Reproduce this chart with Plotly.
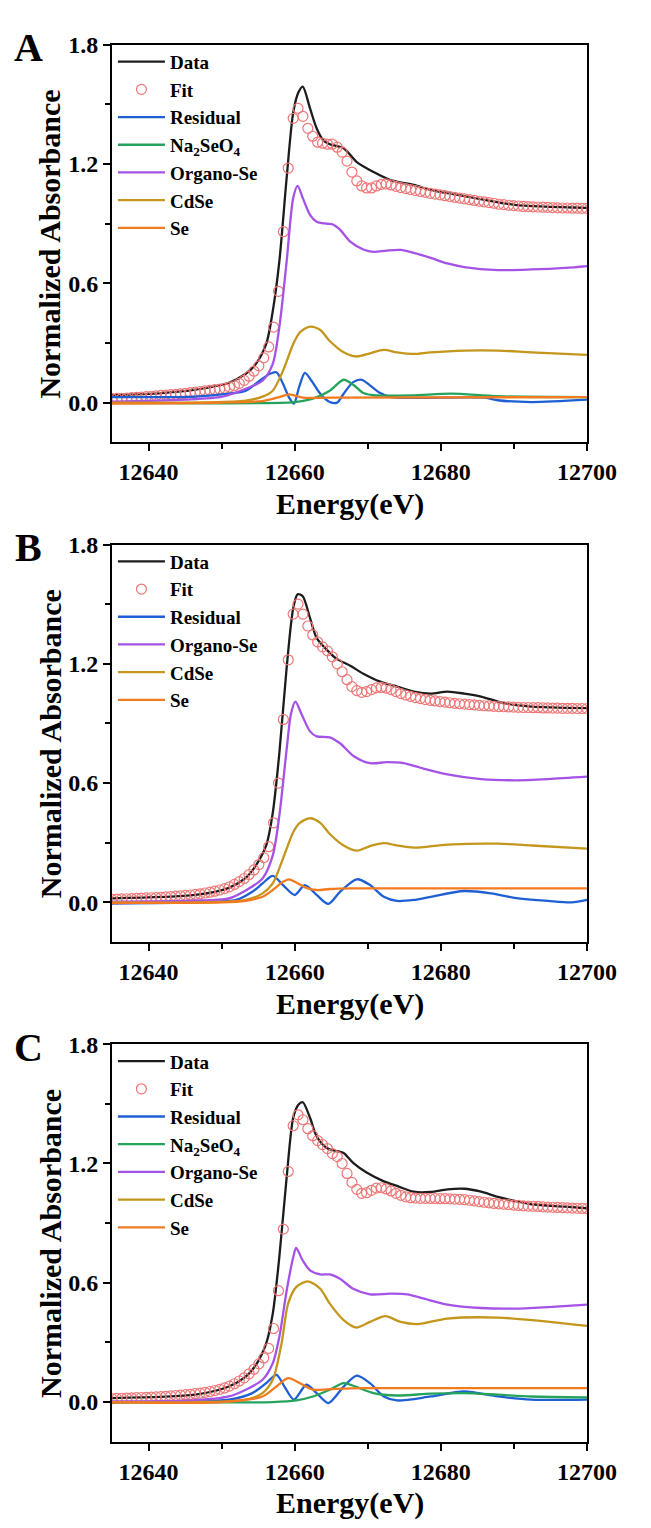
import plotly.graph_objects as go

# ---------------- data ----------------
fit_E = [12635.00, 12635.67, 12636.34, 12637.01, 12637.68, 12638.35, 12639.02, 12639.69, 12640.36, 12641.03,
         12641.70, 12642.37, 12643.04, 12643.71, 12644.38, 12645.05, 12645.72, 12646.39, 12647.06, 12647.73,
         12648.40, 12649.07, 12649.74, 12650.41, 12651.08, 12651.75, 12652.42, 12653.09, 12653.76, 12654.43,
         12655.10, 12655.77, 12656.44, 12657.11, 12657.78, 12658.45, 12659.12, 12659.79, 12660.46, 12661.13,
         12661.80, 12662.47, 12663.14, 12663.81, 12664.48, 12665.15, 12665.82, 12666.49, 12667.16, 12667.83,
         12668.50, 12669.17, 12669.84, 12670.51, 12671.18, 12671.85, 12672.52, 12673.19, 12673.86, 12674.53,
         12675.20, 12675.87, 12676.54, 12677.21, 12677.88, 12678.55, 12679.22, 12679.89, 12680.56, 12681.23,
         12681.90, 12682.57, 12683.24, 12683.91, 12684.58, 12685.25, 12685.92, 12686.59, 12687.26, 12687.93,
         12688.60, 12689.27, 12689.94, 12690.61, 12691.28, 12691.95, 12692.62, 12693.29, 12693.96, 12694.63,
         12695.30, 12695.97, 12696.64, 12697.31, 12697.98, 12698.65, 12699.32, 12699.99]

# Panel A
dataA_E = [12635, 12641.8, 12646.4, 12651.0, 12653.3, 12654.7, 12656.1, 12657.0, 12657.9, 12658.9, 12659.8,
           12660.5, 12661.1, 12662.1, 12663.0, 12663.9, 12664.8, 12666.7, 12668.5, 12670.8, 12673.1, 12676.3,
           12678.6, 12682.3, 12686.0, 12690.1, 12700]
dataA_v = [0.037, 0.048, 0.065, 0.10, 0.145, 0.195, 0.295, 0.46, 0.71, 1.13, 1.46,
           1.56, 1.59, 1.48, 1.38, 1.32, 1.30, 1.28, 1.21, 1.16, 1.12, 1.095,
           1.07, 1.045, 1.02, 0.995, 0.98]
fitA = [0.020, 0.021, 0.022, 0.023, 0.025, 0.026, 0.028, 0.030, 0.032, 0.034,
        0.036, 0.038, 0.040, 0.042, 0.044, 0.047, 0.050, 0.053, 0.056, 0.059,
        0.062, 0.065, 0.068, 0.072, 0.078, 0.085, 0.097, 0.112, 0.133, 0.158,
        0.185, 0.225, 0.28, 0.38, 0.56, 0.86, 1.18, 1.43, 1.48, 1.44,
        1.38, 1.34, 1.31, 1.305, 1.30, 1.30, 1.285, 1.26, 1.215, 1.16,
        1.115, 1.09, 1.08, 1.08, 1.09, 1.098, 1.10, 1.095, 1.088, 1.082,
        1.077, 1.072, 1.067, 1.062, 1.058, 1.053, 1.049, 1.045, 1.041, 1.037,
        1.033, 1.029, 1.025, 1.021, 1.017, 1.013, 1.010, 1.006, 1.003, 0.998,
        0.996, 0.993, 0.991, 0.989, 0.987, 0.986, 0.985, 0.984, 0.983, 0.982,
        0.981, 0.980, 0.979, 0.979, 0.978, 0.978, 0.977, 0.977]
resA_E = [12635, 12646.4, 12651.0, 12653.3, 12655.2, 12656.6, 12657.5, 12658.4, 12659.2, 12659.9, 12660.6,
          12661.4, 12662.3, 12663.5, 12664.8, 12665.8, 12666.7, 12668.0, 12669.2, 12670.3, 12671.7, 12673.1,
          12686.0, 12687.8, 12692.4, 12700]
resA_v = [0.028, 0.03, 0.045, 0.06, 0.11, 0.145, 0.153, 0.095, 0.028, -0.005, 0.078,
          0.15, 0.11, 0.045, 0.003, 0.0, 0.045, 0.103, 0.115, 0.087, 0.048, 0.028,
          0.025, 0.012, 0.003, 0.015]
naA_E = [12635, 12660, 12662.5, 12664.8, 12666.7, 12668.1, 12669.4, 12670.8, 12676, 12681.4, 12687.8, 12700]
naA_v = [0.0, 0.003, 0.02, 0.06, 0.115, 0.087, 0.048, 0.037, 0.036, 0.045, 0.032, 0.028]
orgA_E = [12635, 12645, 12650.1, 12653.3, 12655.6, 12657.0, 12657.9, 12658.9, 12659.8, 12660.4, 12661.1,
          12662.1, 12663.0, 12664.4, 12665.3, 12666.2, 12667.6, 12669.4, 12670.8, 12672.6, 12674.5, 12676.3,
          12678.6, 12680.9, 12683.2, 12687.8, 12692.4, 12697.0, 12700]
orgA_v = [0.005, 0.015, 0.03, 0.07, 0.11, 0.195, 0.38, 0.71, 1.03, 1.09, 1.03,
          0.945, 0.91, 0.90, 0.895, 0.87, 0.81, 0.77, 0.758, 0.765, 0.768, 0.753,
          0.728, 0.70, 0.682, 0.667, 0.67, 0.678, 0.687]
cdA_E = [12635, 12653.3, 12655.6, 12657.0, 12658.4, 12659.8, 12660.7, 12662.1, 12663.5, 12664.8, 12666.7,
         12668.5, 12670.3, 12672.2, 12674.0, 12676.3, 12678.6, 12683.2, 12687.8, 12692.4, 12700]
cdA_v = [0.0, 0.01, 0.03, 0.06, 0.16, 0.295, 0.353, 0.382, 0.365, 0.31, 0.253,
         0.232, 0.248, 0.265, 0.253, 0.245, 0.253, 0.262, 0.262, 0.253, 0.24]
seA_E = [12635, 12650, 12655.6, 12657.9, 12659.3, 12661.1, 12664.8, 12700]
seA_v = [-0.005, 0.0, 0.008, 0.028, 0.042, 0.025, 0.025, 0.028]

# Panel B
dataB_E = [12635, 12646.4, 12651.0, 12653.3, 12654.7, 12656.1, 12657.0, 12657.9, 12658.9, 12659.8, 12660.4,
           12661.1, 12662.1, 12663.0, 12664.4, 12665.7, 12667.6, 12669.4, 12671.7, 12674.0, 12676.3, 12678.6,
           12680.9, 12683.2, 12685.5, 12687.8, 12690.1, 12692.4, 12700]
dataB_v = [0.02, 0.037, 0.073, 0.123, 0.186, 0.286, 0.45, 0.75, 1.18, 1.48, 1.55,
           1.54, 1.43, 1.33, 1.27, 1.226, 1.19, 1.15, 1.11, 1.085, 1.06, 1.05,
           1.06, 1.05, 1.035, 1.01, 0.993, 0.985, 0.977]
fitB = [0.015, 0.016, 0.017, 0.018, 0.019, 0.020, 0.021, 0.022, 0.023, 0.024,
        0.025, 0.027, 0.029, 0.031, 0.033, 0.035, 0.037, 0.040, 0.043, 0.047,
        0.051, 0.056, 0.062, 0.069, 0.078, 0.090, 0.104, 0.120, 0.140, 0.163,
        0.190, 0.225, 0.28, 0.40, 0.60, 0.92, 1.22, 1.45, 1.50, 1.45,
        1.39, 1.345, 1.31, 1.285, 1.265, 1.235, 1.20, 1.16, 1.12, 1.085,
        1.065, 1.056, 1.06, 1.07, 1.079, 1.081, 1.078, 1.07, 1.06, 1.05,
        1.043, 1.036, 1.030, 1.025, 1.020, 1.016, 1.013, 1.010, 1.007, 1.004,
        1.001, 0.999, 0.997, 0.995, 0.993, 0.991, 0.989, 0.988, 0.986, 0.985,
        0.984, 0.983, 0.982, 0.981, 0.980, 0.980, 0.979, 0.979, 0.978, 0.978,
        0.977, 0.977, 0.976, 0.976, 0.976, 0.975, 0.975, 0.975]
resB_E = [12635, 12646.4, 12652.0, 12654.2, 12655.6, 12657.0, 12658.4, 12660.0, 12661.4, 12663.0, 12664.6,
          12666.2, 12668.5, 12670.3, 12672.2, 12674.0, 12676.3, 12678.6, 12683.2, 12686.9, 12690.1, 12694.7,
          12697.9, 12700]
resB_v = [-0.005, 0.0, 0.012, 0.053, 0.095, 0.133, 0.087, 0.037, 0.087, 0.037, -0.008,
          0.053, 0.116, 0.087, 0.028, 0.007, 0.012, 0.028, 0.057, 0.045, 0.023, 0.007,
          0.0, 0.012]
orgB_E = [12635, 12646, 12651.0, 12653.3, 12655.6, 12657.0, 12657.9, 12658.9, 12659.5, 12660.1, 12660.9,
          12662.1, 12663.0, 12664.8, 12666.2, 12668.1, 12670.3, 12672.6, 12674.9, 12677.2, 12680.9, 12685.5,
          12690.1, 12694.7, 12700]
orgB_v = [0.003, 0.008, 0.02, 0.06, 0.12, 0.236, 0.436, 0.77, 0.95, 1.01, 0.95,
          0.86, 0.835, 0.83, 0.80, 0.735, 0.70, 0.705, 0.70, 0.677, 0.644, 0.62,
          0.614, 0.62, 0.632]
cdB_E = [12635, 12653.3, 12655.6, 12657.0, 12658.4, 12659.8, 12660.7, 12662.1, 12663.5, 12664.8, 12666.7,
         12668.5, 12670.3, 12672.2, 12674.0, 12676.3, 12680.9, 12687.8, 12692.4, 12700]
cdB_v = [0.0, 0.012, 0.045, 0.095, 0.22, 0.353, 0.40, 0.423, 0.40, 0.344, 0.286,
         0.26, 0.283, 0.298, 0.286, 0.275, 0.29, 0.295, 0.286, 0.27]
seB_E = [12635, 12650, 12653.3, 12655.6, 12657.0, 12658.4, 12659.2, 12660.2, 12661.6, 12663.0, 12664.8,
         12667.6, 12700]
seB_v = [-0.003, 0.0, 0.008, 0.028, 0.062, 0.103, 0.116, 0.10, 0.073, 0.062, 0.067, 0.07, 0.07]

# Panel C
dataC_E = [12635, 12646.4, 12651.0, 12653.3, 12654.7, 12656.1, 12657.0, 12657.9, 12658.9, 12659.8, 12660.5,
           12661.1, 12662.1, 12663.0, 12664.4, 12665.8, 12666.7, 12668.0, 12669.9, 12672.2, 12674.0, 12676.3,
           12678.6, 12680.9, 12683.2, 12685.5, 12687.8, 12690.1, 12692.4, 12697.0, 12700]
dataC_v = [0.02, 0.037, 0.078, 0.128, 0.187, 0.295, 0.445, 0.73, 1.13, 1.43, 1.495,
           1.508, 1.43, 1.337, 1.278, 1.262, 1.253, 1.203, 1.153, 1.11, 1.087, 1.058,
           1.057, 1.07, 1.073, 1.058, 1.032, 1.012, 0.995, 0.983, 0.975]
fitC = [0.017, 0.018, 0.019, 0.020, 0.021, 0.022, 0.023, 0.024, 0.025, 0.026,
        0.027, 0.029, 0.031, 0.033, 0.035, 0.037, 0.039, 0.042, 0.045, 0.049,
        0.053, 0.058, 0.064, 0.071, 0.080, 0.092, 0.106, 0.122, 0.142, 0.165,
        0.192, 0.222, 0.27, 0.37, 0.56, 0.87, 1.16, 1.39, 1.445, 1.42,
        1.375, 1.34, 1.315, 1.295, 1.275, 1.25, 1.235, 1.20, 1.15, 1.105,
        1.07, 1.05, 1.053, 1.065, 1.076, 1.078, 1.072, 1.062, 1.050, 1.040,
        1.032, 1.028, 1.026, 1.025, 1.025, 1.024, 1.024, 1.023, 1.023, 1.022,
        1.021, 1.020, 1.018, 1.015, 1.012, 1.008, 1.005, 1.002, 0.999, 0.997,
        0.995, 0.993, 0.991, 0.989, 0.987, 0.986, 0.985, 0.984, 0.982, 0.981,
        0.980, 0.979, 0.978, 0.977, 0.976, 0.975, 0.974, 0.973]
resC_E = [12635, 12651.0, 12654.2, 12656.1, 12657.5, 12658.6, 12659.9, 12661.6, 12663.0, 12664.6, 12666.7,
          12668.5, 12670.3, 12672.2, 12674.0, 12678.6, 12683.2, 12687.8, 12692.4, 12700]
resC_v = [0.0, 0.012, 0.045, 0.095, 0.137, 0.078, 0.012, 0.087, 0.045, -0.005, 0.078,
          0.133, 0.095, 0.028, 0.008, 0.028, 0.053, 0.028, 0.012, 0.012]
naC_E = [12635, 12657, 12660.2, 12662.5, 12664.8, 12666.7, 12668.5, 12670.8, 12674.0, 12678.6, 12683.2,
         12687.8, 12692.4, 12700]
naC_v = [0.0, 0.0, 0.008, 0.028, 0.062, 0.095, 0.075, 0.045, 0.033, 0.042, 0.045, 0.037, 0.028, 0.023]
orgC_E = [12635, 12646, 12651.0, 12653.3, 12655.6, 12657.0, 12657.9, 12658.9, 12659.8, 12660.2, 12661.1,
          12662.1, 12663.5, 12664.8, 12666.2, 12668.0, 12670.3, 12673.1, 12675.4, 12677.7, 12680.9, 12685.5,
          12690.1, 12694.7, 12700]
orgC_v = [0.003, 0.008, 0.028, 0.062, 0.112, 0.195, 0.328, 0.56, 0.728, 0.775, 0.712,
          0.662, 0.642, 0.642, 0.62, 0.57, 0.542, 0.545, 0.542, 0.52, 0.49, 0.473,
          0.47, 0.478, 0.49]
cdC_E = [12635, 12653.3, 12655.6, 12657.0, 12658.2, 12659.1, 12660.2, 12661.8, 12663.5, 12664.8, 12666.7,
         12668.4, 12670.3, 12672.4, 12674.5, 12676.8, 12680.9, 12687.8, 12692.4, 12700]
cdC_v = [0.0, 0.012, 0.045, 0.112, 0.295, 0.495, 0.578, 0.607, 0.57, 0.495, 0.412,
         0.375, 0.403, 0.432, 0.403, 0.392, 0.42, 0.425, 0.412, 0.383]
seC_E = [12635, 12650, 12655.6, 12657.5, 12659.1, 12660.7, 12662.5, 12664.8, 12669.4, 12700]
seC_v = [0.0, 0.0, 0.028, 0.078, 0.12, 0.095, 0.062, 0.065, 0.07, 0.07]

panel_letters = ["A", "B", "C"]
x_ticks = [12640, 12660, 12680, 12700]
y_ticks = [0.0, 0.6, 1.2, 1.8]

# ---------------- styling ----------------
W, H = 651, 1528
OFF = 8  # default page body margin; layout targets are given in page pixels
FONT = "Liberation Serif"
C_DATA = "#1c1c1c"
C_FIT = "#ee7676"
C_RES = "#1f5fd4"
C_NA = "#25a35c"
C_ORG = "#a552e6"
C_CD = "#c4961c"
C_SE = "#f27b20"

panels = [
    dict(data=(dataA_E, dataA_v), fit=fitA, res=(resA_E, resA_v), na=(naA_E, naA_v),
         org=(orgA_E, orgA_v), cd=(cdA_E, cdA_v), se=(seA_E, seA_v)),
    dict(data=(dataB_E, dataB_v), fit=fitB, res=(resB_E, resB_v), na=None,
         org=(orgB_E, orgB_v), cd=(cdB_E, cdB_v), se=(seB_E, seB_v)),
    dict(data=(dataC_E, dataC_v), fit=fitC, res=(resC_E, resC_v), na=(naC_E, naC_v),
         org=(orgC_E, orgC_v), cd=(cdC_E, cdC_v), se=(seC_E, seC_v)),
]

left_px, right_px = 117, 615
tops = [32, 536, 1040]
box_h = 401


def px2x(p):
    return (p - OFF) / W


def py2y(p):
    return 1 - (p - OFF) / H


fig = go.Figure()
annotations = []
layout_axes = {}

for i, p in enumerate(panels):
    n = "" if i == 0 else str(i + 1)
    xa, ya = "x" + n, "y" + n
    lg = "legend" + n
    common = dict(xaxis=xa, yaxis=ya, legend=lg)
    line_kw = dict(shape="spline", smoothing=0.8, width=2.3)

    fig.add_trace(go.Scatter(x=p["data"][0], y=p["data"][1], mode="lines", name="Data",
                             line=dict(color=C_DATA, **line_kw), **common))
    fig.add_trace(go.Scatter(x=fit_E, y=p["fit"], mode="markers", name="Fit",
                             marker=dict(symbol="circle-open", size=10, color=C_FIT,
                                         line=dict(width=1.2, color=C_FIT)), **common))
    fig.add_trace(go.Scatter(x=p["res"][0], y=p["res"][1], mode="lines", name="Residual",
                             line=dict(color=C_RES, **line_kw), **common))
    if p["na"] is not None:
        fig.add_trace(go.Scatter(x=p["na"][0], y=p["na"][1], mode="lines",
                                 name="Na<sub>2</sub>SeO<sub>4</sub>",
                                 line=dict(color=C_NA, **line_kw), **common))
    fig.add_trace(go.Scatter(x=p["org"][0], y=p["org"][1], mode="lines", name="Organo-Se",
                             line=dict(color=C_ORG, **line_kw), **common))
    fig.add_trace(go.Scatter(x=p["cd"][0], y=p["cd"][1], mode="lines", name="CdSe",
                             line=dict(color=C_CD, **line_kw), **common))
    fig.add_trace(go.Scatter(x=p["se"][0], y=p["se"][1], mode="lines", name="Se",
                             line=dict(color=C_SE, **line_kw), **common))

    top = tops[i]
    bot = top + box_h
    tickfont = dict(family=FONT, size=24, color="black", weight="bold")
    layout_axes["xaxis" + n] = dict(
        domain=[px2x(left_px), px2x(right_px)], anchor=ya, range=[12635, 12700],
        tickmode="array", tickvals=x_ticks, ticktext=[str(t) for t in x_ticks],
        ticks="outside", ticklen=7, tickwidth=2, tickcolor="black",
        showline=True, linecolor="black", linewidth=2, mirror=True,
        showgrid=False, zeroline=False, tickfont=tickfont,
        minor=dict(tickmode="array", tickvals=[12650, 12670, 12690], ticks="outside",
                   ticklen=5, tickwidth=2, tickcolor="black", showgrid=False),
    )
    layout_axes["yaxis" + n] = dict(
        domain=[py2y(bot), py2y(top)], anchor=xa, range=[-0.2, 1.8],
        tickmode="array", tickvals=y_ticks, ticktext=["%.1f" % t for t in y_ticks],
        ticks="outside", ticklen=7, tickwidth=2, tickcolor="black",
        showline=True, linecolor="black", linewidth=2, mirror=True,
        showgrid=False, zeroline=False, tickfont=tickfont,
        minor=dict(tickmode="array", tickvals=[0.3, 0.9, 1.5], ticks="outside",
                   ticklen=5, tickwidth=2, tickcolor="black", showgrid=False),
    )
    layout_axes[lg] = dict(
        x=px2x(left_px + 1), y=py2y(top - 2), xanchor="left", yanchor="top",
        bgcolor="rgba(0,0,0,0)", borderwidth=0, tracegroupgap=0,
        font=dict(family=FONT, size=19, color="black", weight="bold"),
        itemwidth=47,
    )
    annotations.append(dict(text=panel_letters[i], x=px2x(29), y=py2y(top + 3), xref="paper", yref="paper",
                            xanchor="center", yanchor="middle", showarrow=False,
                            font=dict(family=FONT, size=40, color="black", weight="bold")))
    annotations.append(dict(text="Normalized Absorbance", x=px2x(52), y=py2y(top + box_h / 2),
                            xref="paper", yref="paper", xanchor="center", yanchor="middle",
                            textangle=-90, showarrow=False,
                            font=dict(family=FONT, size=30, color="black", weight="bold")))
    annotations.append(dict(text="Energy(eV)", x=px2x((left_px + right_px) / 2), y=py2y(bot + 62),
                            xref="paper", yref="paper", xanchor="center", yanchor="middle",
                            showarrow=False,
                            font=dict(family=FONT, size=30, color="black", weight="bold")))

fig.update_layout(
    width=W, height=H, margin=dict(l=0, r=0, t=0, b=0),
    paper_bgcolor="white", plot_bgcolor="white",
    annotations=annotations, **layout_axes,
)

fig.write_html("out.html")
